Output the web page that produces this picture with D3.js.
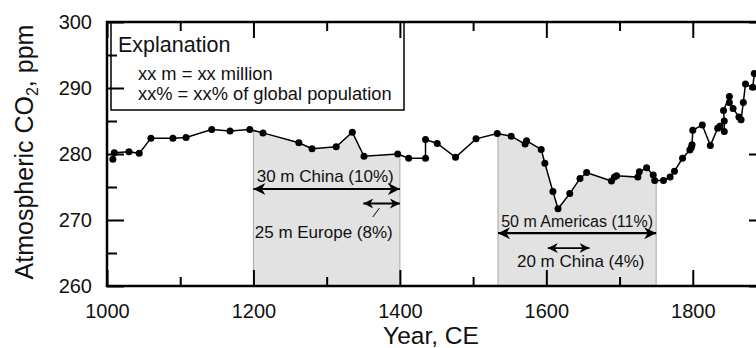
<!DOCTYPE html>
<html>
<head>
<meta charset="utf-8">
<script src="https://cdn.jsdelivr.net/npm/d3@7/dist/d3.min.js"></script>
<style>
  html, body { margin: 0; padding: 0; background: #fff; overflow: hidden; }
  svg { display: block; font-family: "Liberation Sans", Arial, Helvetica, sans-serif; }
</style>
</head>
<body>
<svg id="chart" width="756" height="348"></svg>
<script>
// Ice-core CO2 record, year CE and concentration in ppm (in drawing order)
const years = [1008, 1010, 1030, 1044, 1060, 1090, 1108, 1143, 1168, 1195,
  1213, 1262, 1280, 1313, 1335, 1351, 1397, 1412, 1435, 1435,
  1451, 1476, 1504, 1533, 1552, 1571, 1573, 1593, 1598, 1609,
  1616, 1632, 1646, 1655, 1689, 1693, 1696, 1725, 1727, 1737,
  1746, 1748, 1760, 1769, 1775, 1786, 1796, 1798, 1799, 1800,
  1813, 1824, 1834, 1837, 1843, 1843, 1842, 1850, 1850, 1855,
  1863, 1866, 1869, 1872, 1882, 1884];
const co2 = [279.2, 280.2, 280.35, 280.1, 282.4, 282.4, 282.5, 283.7, 283.5, 283.7,
  283.2, 281.7, 280.8, 281.1, 283.3, 279.65, 280.0, 279.35, 279.35, 282.2,
  281.6, 279.5, 282.3, 283.1, 282.7, 281.5, 282.0, 280.7, 278.6, 274.3,
  271.7, 274.0, 276.3, 277.2, 275.9, 276.5, 276.7, 276.5, 277.3, 277.9,
  276.8, 276.0, 276.0, 276.5, 277.4, 279.35, 280.6, 281.0, 281.4, 283.6,
  284.4, 281.3, 283.9, 284.2, 283.4, 285.0, 286.6, 288.7, 287.8, 286.9,
  285.6, 285.2, 287.8, 290.6, 290.1, 292.2];

// Depopulation episodes shaded under the curve
const shadeStart = [1200, 1534];
const shadeEnd = [1400, 1750];

// Population-loss annotations: arrow spans and labels
const arrowStart = [1200, 1350, 1534, 1602];
const arrowEnd = [1400, 1400, 1750, 1659];
const arrowLevel = [274.7, 272.5, 268.0, 265.75];
const arrowSize = ["big", "small", "big", "small"];
const noteLabels = ["30 m China (10%)", "25 m Europe (8%)", "50 m Americas (11%)", "20 m China (4%)"];
const noteYear = [1298, 1296, 1642, 1647];
const noteLevel = [275.75, 267.25, 268.95, 262.9];
const noteSize = [17, 17, 16, 17];

// Axis ticks
const xMajor = [1000, 1200, 1400, 1600, 1800];
const xMinor = [1100, 1300, 1500, 1700];
const yMajor = [260, 270, 280, 290, 300];
const yMinor = [265, 275, 285, 295];

const legendTitle = "Explanation";
const legendLines = ["xx m = xx million", "xx% = xx% of global population"];

const data = years.map((yr, i) => ({ year: yr, ppm: co2[i] }));

const svg = d3.select("#chart");
const L = 107, R = 766, T = 22, B = 286;
const x = d3.scaleLinear().domain([1000, 1900]).range([L, R]);
const y = d3.scaleLinear().domain([260, 300]).range([B, T]);

// linear interpolation of the record at a given year (used for shade edges)
function ppmAt(yr) {
  for (let i = 0; i < data.length - 1; i++) {
    const a = data[i], b = data[i + 1];
    if (yr >= a.year && yr <= b.year && b.year !== a.year) {
      return a.ppm + (b.ppm - a.ppm) * (yr - a.year) / (b.year - a.year);
    }
  }
  return data[0].ppm;
}

const defs = svg.append("defs");

// shaded areas under the curve
const area = d3.area().x(d => x(d.year)).y0(y(260)).y1(d => y(d.ppm));
shadeStart.forEach((s, i) => {
  const id = "clip" + i;
  defs.append("clipPath").attr("id", id)
    .append("rect")
    .attr("x", x(s)).attr("y", T)
    .attr("width", x(shadeEnd[i]) - x(s)).attr("height", B - T);
  svg.append("path").datum(data)
    .attr("d", area)
    .attr("fill", "#e2e2e2")
    .attr("clip-path", `url(#${id})`);
  [s, shadeEnd[i]].forEach(yr => {
    svg.append("line")
      .attr("x1", x(yr)).attr("x2", x(yr))
      .attr("y1", y(260)).attr("y2", y(ppmAt(yr)))
      .attr("stroke", "#a8a8a8").attr("stroke-width", 1);
  });
});

// arrowheads
function addMarker(id, len, half, orientStart) {
  defs.append("marker")
    .attr("id", id)
    .attr("markerUnits", "userSpaceOnUse")
    .attr("viewBox", `0 ${-half} ${len} ${half * 2}`)
    .attr("refX", orientStart ? 0 : len).attr("refY", 0)
    .attr("markerWidth", len).attr("markerHeight", half * 2)
    .attr("orient", "auto")
    .append("path")
    .attr("d", orientStart
      ? `M0,0 L${len},${-half} L${len * 0.7},0 L${len},${half} Z`
      : `M${len},0 L0,${-half} L${len * 0.3},0 L0,${half} Z`)
    .attr("fill", "#000");
}
addMarker("bigS", 12, 6, true);
addMarker("bigE", 12, 6, false);
addMarker("smallS", 10, 5, true);
addMarker("smallE", 10, 5, false);

arrowStart.forEach((s, i) => {
  const big = arrowSize[i] === "big";
  svg.append("line")
    .attr("x1", x(s)).attr("x2", x(arrowEnd[i]))
    .attr("y1", y(arrowLevel[i])).attr("y2", y(arrowLevel[i]))
    .attr("stroke", "#000").attr("stroke-width", big ? 2.2 : 1.8)
    .attr("marker-start", `url(#${big ? "bigS" : "smallS"})`)
    .attr("marker-end", `url(#${big ? "bigE" : "smallE"})`);
});
// leader from the Europe arrow down to its label
svg.append("line")
  .attr("x1", x(1372)).attr("y1", y(arrowLevel[1] - 0.7))
  .attr("x2", x(1363)).attr("y2", y(arrowLevel[1] - 2.05))
  .attr("stroke", "#000").attr("stroke-width", 1);

noteLabels.forEach((t, i) => {
  svg.append("text")
    .attr("x", x(noteYear[i])).attr("y", y(noteLevel[i]))
    .attr("text-anchor", "middle")
    .attr("font-size", noteSize[i])
    .attr("fill", "#111")
    .text(t);
});

// CO2 record: line and points
svg.append("path").datum(data)
  .attr("d", d3.line().x(d => x(d.year)).y(d => y(d.ppm)))
  .attr("fill", "none").attr("stroke", "#000").attr("stroke-width", 1.5);
svg.append("g").selectAll("circle").data(data).join("circle")
  .attr("cx", d => x(d.year)).attr("cy", d => y(d.ppm))
  .attr("r", 3.5).attr("fill", "#000");

// legend box
const lg = svg.append("g");
lg.append("rect")
  .attr("x", 111).attr("y", T).attr("width", 293).attr("height", 88)
  .attr("fill", "#fff").attr("stroke", "#000").attr("stroke-width", 1.5);
lg.append("text").attr("x", 118).attr("y", 52)
  .attr("font-size", 21.5).attr("fill", "#111").text(legendTitle);
legendLines.forEach((t, i) => {
  lg.append("text").attr("x", 138).attr("y", 80 + i * 20)
    .attr("font-size", 18.3).attr("fill", "#111").text(t);
});

// axes: ticks point inward on all four sides
function styleAxis(g) {
  g.select(".domain").remove();
  g.selectAll(".tick line").attr("stroke", "#000").attr("stroke-width", 2);
  g.selectAll(".tick text").attr("font-size", 20).attr("fill", "#111")
    .attr("font-family", "Liberation Sans, Arial, sans-serif");
}
svg.append("g").attr("transform", `translate(0,${B})`)
  .call(d3.axisBottom(x).tickValues(xMajor).tickSize(-16).tickPadding(18).tickFormat(d3.format("d")))
  .call(styleAxis);
svg.append("g").attr("transform", `translate(0,${B})`)
  .call(d3.axisBottom(x).tickValues(xMinor).tickSize(-9).tickFormat(""))
  .call(styleAxis);
svg.append("g").attr("transform", `translate(0,${T})`)
  .call(d3.axisTop(x).tickValues(xMajor).tickSize(-16).tickFormat(""))
  .call(styleAxis);
svg.append("g").attr("transform", `translate(0,${T})`)
  .call(d3.axisTop(x).tickValues(xMinor).tickSize(-9).tickFormat(""))
  .call(styleAxis);
svg.append("g").attr("transform", `translate(${L},0)`)
  .call(d3.axisLeft(y).tickValues(yMajor).tickSize(-17).tickPadding(15).tickFormat(d3.format("d")))
  .call(styleAxis);
svg.append("g").attr("transform", `translate(${L},0)`)
  .call(d3.axisLeft(y).tickValues(yMinor).tickSize(-10).tickFormat(""))
  .call(styleAxis);
svg.append("g").attr("transform", `translate(${R},0)`)
  .call(d3.axisRight(y).tickValues(yMajor).tickSize(-17).tickFormat(""))
  .call(styleAxis);
svg.append("g").attr("transform", `translate(${R},0)`)
  .call(d3.axisRight(y).tickValues(yMinor).tickSize(-10).tickFormat(""))
  .call(styleAxis);

// plot frame
svg.append("rect")
  .attr("x", L).attr("y", T).attr("width", R - L).attr("height", B - T)
  .attr("fill", "none").attr("stroke", "#000").attr("stroke-width", 2.5);

// axis titles
svg.append("text")
  .attr("x", 431).attr("y", 344)
  .attr("text-anchor", "middle").attr("font-size", 24.5).attr("fill", "#111")
  .text("Year, CE");

const yt = svg.append("text")
  .attr("transform", "translate(33,152) rotate(-90)")
  .attr("text-anchor", "middle").attr("font-size", 25).attr("fill", "#111");
yt.append("tspan").text("Atmospheric CO");
yt.append("tspan").attr("font-size", 16).attr("dy", 5).text("2");
yt.append("tspan").attr("dy", -5).text(", ppm");
</script>
</body>
</html>
